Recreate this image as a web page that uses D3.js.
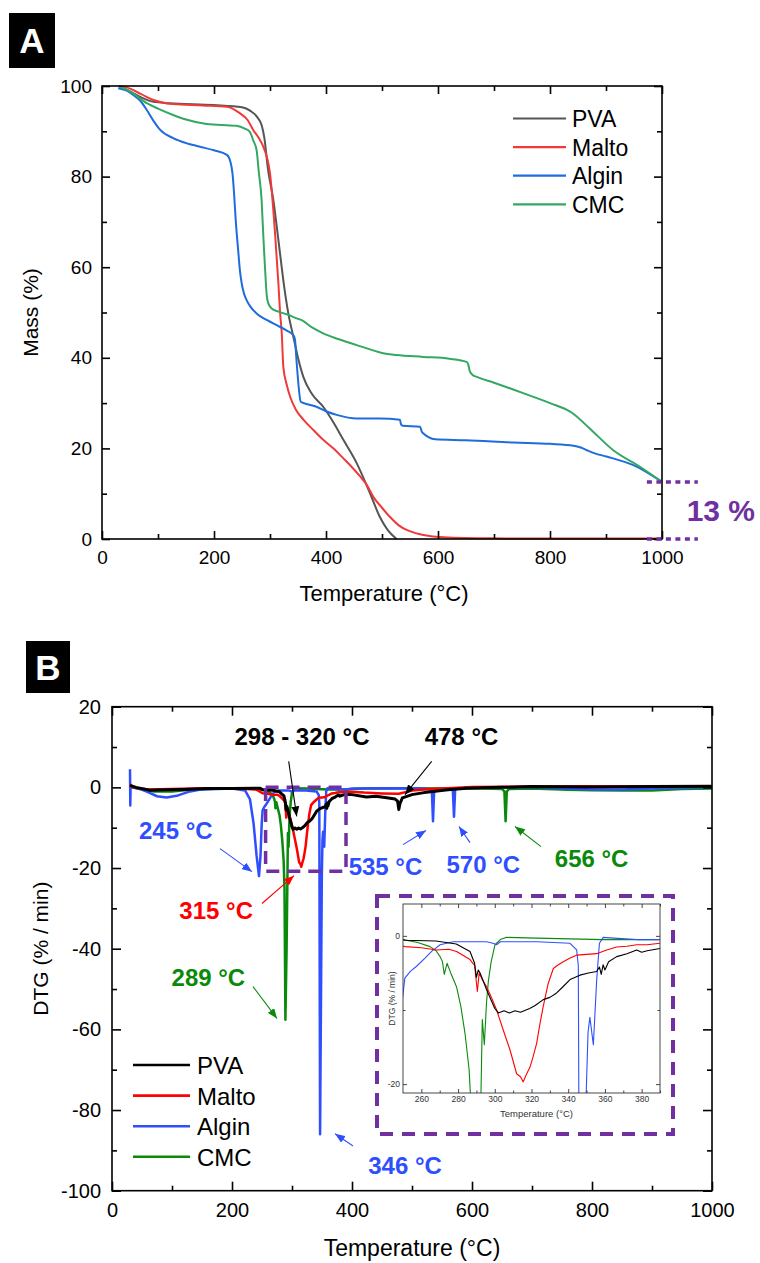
<!DOCTYPE html>
<html>
<head>
<meta charset="utf-8">
<script src="https://cdn.jsdelivr.net/npm/d3@7"></script>
<style>
  html, body { margin: 0; padding: 0; background: #fff; }
  svg { display: block; }
</style>
</head>
<body>
<svg id="chart" width="760" height="1263"></svg>
<script>
// ---------------- DATA ----------------
// Panel A: TGA mass (%) vs temperature (°C)
const seriesNames = ["PVA", "Malto", "Algin", "CMC"];

const tgaPVA = [[30,100],[50,98.8],[70,97.5],[92,96.5],[120,96.2],[200,95.8],[250,95.3],[265,94.5],[278,93],[285,91.4],[290,88.5],[296,82],[306,74.8],[315,66],[325,56],[332.7,49.8],[341.6,44.7],[350,40],[359.5,35.8],[375,32],[395,29.2],[412,26],[431,21.9],[455,16.7],[478.6,10.1],[496,4.9],[510,2],[526,0]];
const tgaMalto = [[30,100],[44,99.7],[70,98.2],[92,96.9],[127,96.0],[180,95.7],[223,95.4],[246,94.0],[260,92.5],[270,90.3],[280,88.5],[288,86.6],[300,80.7],[309,67.5],[315,56.4],[318,50],[321,45.4],[323.8,38],[330,34],[336,31.4],[346,28.6],[360,26.3],[378,24],[395,21.9],[415,19.8],[431,17.8],[446,15.9],[461,13.8],[473,11.9],[484.5,9.3],[500,6.9],[514,4.9],[530,3.0],[544,2.0],[560,1.3],[574,0.9],[610,0.4],[693,0.15],[800,0.1],[1000,0.1]];
const tgaAlgin = [[29,99.5],[45,98.9],[56,98],[68,96.8],[80,94.7],[92,92.3],[104,90.3],[127,88.5],[150,87.4],[175,86.6],[200,85.8],[223,84.8],[229,83.4],[233,80.7],[236,76],[239,70],[243,64],[246.5,59],[249.5,56.4],[254,54],[258,52.8],[265,51.3],[276,49.8],[295,48.3],[312,47.2],[330,46],[341.6,45],[344.6,44],[347,40],[350.6,34.4],[354.8,30.3],[365,29.8],[383,29.2],[400,28.2],[419,27.4],[455,26.6],[496,26.6],[532,26.3],[534,25.3],[537,25],[568,24.8],[571,23.7],[575,23.2],[583,22.5],[595,22],[650,21.8],[735,21.3],[800,21],[842,20.6],[855,20.2],[866,19.6],[880,18.9],[901,18.2],[949,16.3],[1000,12.6]];
const tgaCMC = [[29,100],[50,98.8],[80,96.2],[100,95],[127,93.6],[150,92.6],[187,91.6],[240,91.2],[255,90.6],[264,89.9],[270,88],[276,85.9],[280,81],[285,74.8],[288,67],[291,60.1],[294,54],[297,52],[303,50.9],[315,50.2],[330,49.6],[347.6,48.7],[356.6,48.3],[375,46.7],[395,45.4],[420,44.2],[455,42.8],[480,41.8],[502,41],[526,40.6],[574,40.2],[620,39.8],[651,39.1],[654,38.5],[657,37],[662,36.2],[669,35.8],[700,34.5],[752,32.2],[800,30],[836,28.1],[842,27.6],[870,24.5],[913,19.6],[960,16],[1000,12.6]];

// Panel B: DTG (% / min) vs temperature (°C)
const dtgPVA = [[30,0.5],[40,0],[63,-0.7],[91,-0.6],[120,-0.5],[158,-0.3],[200,-0.3],[247,-0.2],[251,-0.6],[268,-0.7],[279,-1.1],[286.5,-2.1],[289,-3.7],[290,-5.6],[291,-4.6],[292,-5.0],[295.6,-7.3],[300,-9.8],[302,-10.4],[305,-10.1],[308,-10.4],[311,-10.1],[314,-10.3],[319,-9.8],[322,-9.4],[326.4,-8.6],[330,-8.3],[333.7,-7.7],[337,-6.9],[341,-5.9],[346.4,-5.3],[351,-5.0],[355.5,-4.8],[357,-4.2],[358,-5.2],[359,-3.9],[360,-4.6],[362,-3.5],[366.4,-2.8],[372,-2.4],[377.3,-1.9],[380,-2.2],[383,-2.0],[390,-1.7],[400,-1.8],[424,-2.4],[440,-2.2],[458,-2.6],[472,-2.9],[476,-3.4],[478,-5.5],[480,-4.0],[484,-2.6],[500,-1.8],[520,-1.3],[535,-1.0],[560,-0.6],[591,-0.2],[650,0],[700,0.2],[800,0.1],[900,0.2],[1000,0.3]];
const dtgMalto = [[30,0.8],[35,0],[60,-0.5],[100,-0.4],[150,-0.2],[200,-0.2],[240,-0.5],[251,-1.45],[260,-1.6],[268.3,-1.9],[275,-1.8],[279.2,-2.1],[286.5,-3.2],[289,-4.0],[290.5,-7.5],[291.5,-5.0],[293,-5.8],[295.6,-6.9],[298,-8.2],[301,-10.0],[304.6,-12.7],[308.3,-15.4],[311.9,-18.6],[314,-19.0],[315.5,-19.7],[317,-18.8],[319.2,-17.7],[321,-16.2],[322.8,-14.5],[324.5,-12],[326.4,-9.5],[329,-6.5],[331.9,-4.4],[334,-4.0],[337.3,-3.5],[341,-3.0],[344.6,-2.6],[350,-2.5],[355.5,-2.4],[361,-1.9],[366.4,-1.5],[372,-1.4],[377.3,-1.2],[383,-1.2],[390,-1.0],[420,-1.3],[450,-1.5],[478,-1.6],[500,-0.8],[530,-0.4],[560,-0.2],[600,0.1],[700,0.2],[800,0.3],[900,0.2],[1000,0.3]];
const dtgAlgin = [[30,4.5],[30.5,-4.5],[31,0],[45,-0.3],[60,-1.2],[75,-2.2],[91,-2.5],[110,-2.0],[130,-1.0],[150,-0.5],[200,-0.3],[222,-0.8],[230,-3],[236,-9],[241,-17],[245,-22],[247.5,-17],[249.5,-9],[251,-5.7],[254,-4.8],[257.4,-4.1],[262,-3.0],[265.6,-2.1],[270.2,-1.2],[277.4,-0.8],[295.6,-0.8],[299,-1.0],[301,-1.2],[303,-0.8],[322.8,-0.8],[341,-1.0],[344.6,-1.9],[345.5,-4],[346.8,-86],[349.7,-22],[350.8,-13],[351.8,-11],[353.7,-14.7],[355.5,-6],[357,-1.0],[359.1,-0.2],[365,-0.3],[377.3,-0.5],[390,-0.5],[400,-0.3],[450,-0.2],[520,-0.3],[533,-0.5],[535,-8.4],[537,-0.5],[560,-0.3],[568,-0.5],[570,-7.3],[572,-0.3],[600,0],[700,0],[760,-0.3],[800,-0.5],[850,-0.5],[900,-0.3],[1000,0]];
const dtgCMC = [[30,0.3],[40,-0.2],[70,-1.0],[100,-1.0],[130,-0.6],[180,-0.3],[230,-0.3],[251,-0.54],[258,-0.9],[264.7,-1.45],[268,-2.0],[270.2,-2.8],[271.5,-3.5],[272.5,-5.2],[274,-3.7],[276,-5.0],[279.2,-6.9],[281.5,-9.5],[283.8,-13.2],[286,-18],[287.5,-25],[289,-57.6],[291,-40],[292.5,-21],[293.2,-11.3],[294.3,-14.7],[295.5,-9],[296.5,-6.1],[298,-3.5],[300.1,-1.2],[303,-0.5],[306.5,-0.2],[322.8,-0.3],[341,-0.4],[359,-0.5],[390,-0.5],[420,-0.3],[480,-0.2],[550,-0.3],[600,-0.2],[650,-0.4],[654,-1],[656,-8.4],[658,-1],[662,-0.4],[700,-0.3],[760,-0.6],[800,-0.7],[850,-0.8],[900,-0.8],[950,-0.4],[1000,-0.3]];

// Tick values
const ticksA_x = [0,200,400,600,800,1000];
const ticksA_xMinor = [100,300,500,700,900];
const ticksA_y = [0,20,40,60,80,100];
const ticksA_yMinor = [10,30,50,70,90];
const ticksB_x = [0,200,400,600,800,1000];
const ticksB_xMinor = [100,300,500,700,900];
const ticksB_y = [20,0,-20,-40,-60,-80,-100];
const ticksB_yMinor = [10,-10,-30,-50,-70,-90];
const ticksI_x = [260,280,300,320,340,360,380];
const ticksI_xMinor = [270,290,310,330,350,370,390];
const ticksI_y = [0,-20];
const ticksI_yMinor = [-10];

// Residue annotation (panel A)
const residueValue = 12.6;
const residueLabel = "13 %";
const residueSpan = [973, 1064];
const residueTextPos = [1044, 4];

// Zoom region shown in the inset (panel B): [T0, T1, D0, D1]
const zoomBox = [256, 390, 0, -20.8];

// Peak annotations (panel B)
const annLabels = ["298 - 320 °C", "478 °C", "245 °C", "535 °C", "570 °C", "656 °C", "315 °C", "289 °C", "346 °C"];
const annSeries = ["PVA", "PVA", "Algin", "Algin", "Algin", "CMC", "Malto", "CMC", "Algin"];
const annTextPos = [[316.7,10.6],[582.5,10.6],[106.4,-12.7],[455.8,-21.7],[618.9,-21.2],[799.4,-19.8],[173.6,-32.6],[160.6,-49.2],[488.4,-95.9]];
const annArrowFrom = [[294.5,6.45],[532.8,6.45],[180,-15.2],[485,-14.2],[596.7,-13.7],[715,-14.7],[250,-28.8],[235,-49.4],[401.7,-88.9]];
const annArrowTo = [[307.8,-7.2],[488.3,-1.8],[233.3,-20.9],[523.3,-10.7],[578.3,-9.7],[671.7,-9.7],[303.3,-21.9],[275,-57.3],[371.7,-85.9]];

// ---------------- STYLE ----------------
const FONT = "'Liberation Sans', Arial, Helvetica, sans-serif";
const colA = {PVA: "#555555", Malto: "#f03a3a", Algin: "#1f6ddc", CMC: "#34a862"};
const colB = {PVA: "#000000", Malto: "#ff0000", Algin: "#2f4fff", CMC: "#0a8a0a"};
const PURPLE = "#7030a0";

const svg = d3.select("#chart");

function frameAxes(g, x, y, o) {
  const [x0, x1] = x.range();
  const [y0, y1] = y.range(); // y0 bottom, y1 top
  function mk(fn, scale, vals, size, labels, pad, tx, ty) {
    const a = fn(scale).tickValues(vals).tickSize(-size).tickPadding(pad)
      .tickFormat(labels ? (d => String(d)) : (() => ""));
    const gg = g.append("g").attr("transform", `translate(${tx},${ty})`).call(a);
    gg.select(".domain").remove();
    gg.selectAll("line").attr("stroke", o.color).attr("stroke-width", o.sw);
    gg.selectAll("text").attr("font-size", o.fs).attr("font-family", FONT).attr("fill", o.textColor || "#000");
    return gg;
  }
  mk(d3.axisBottom, x, o.xMajor, o.maj, true, o.padX, 0, y0);
  mk(d3.axisBottom, x, o.xMinor, o.min, false, 0, 0, y0);
  mk(d3.axisTop, x, o.xMajor, o.maj, false, 0, 0, y1);
  mk(d3.axisTop, x, o.xMinor, o.min, false, 0, 0, y1);
  mk(d3.axisLeft, y, o.yMajor, o.maj, true, o.padY, x0, 0);
  mk(d3.axisLeft, y, o.yMinor, o.min, false, 0, x0, 0);
  mk(d3.axisRight, y, o.yMajor, o.maj, false, 0, x1, 0);
  mk(d3.axisRight, y, o.yMinor, o.min, false, 0, x1, 0);
  g.append("rect").attr("x", x0).attr("y", y1).attr("width", x1 - x0).attr("height", y0 - y1)
    .attr("fill", "none").attr("stroke", o.color).attr("stroke-width", o.sw);
}

function panelLabel(letter, bx, by, bw, bh) {
  svg.append("rect").attr("x", bx).attr("y", by).attr("width", bw).attr("height", bh).attr("fill", "#000");
  svg.append("text").attr("x", bx + bw / 2).attr("y", by + bh / 2 + 12.5)
    .attr("text-anchor", "middle").attr("font-family", FONT).attr("font-weight", "bold")
    .attr("font-size", 35).attr("fill", "#fff").text(letter);
}

// ---------------- PANEL A ----------------
const xA = d3.scaleLinear().domain([0, 1000]).range([102, 662]);
const yA = d3.scaleLinear().domain([0, 100]).range([539, 86]);
const gA = svg.append("g");
panelLabel("A", 9, 13, 46, 55);

const lineA = d3.line().x(d => xA(d[0])).y(d => yA(d[1])).curve(d3.curveMonotoneX);
const tgaData = {PVA: tgaPVA, Malto: tgaMalto, Algin: tgaAlgin, CMC: tgaCMC};
seriesNames.forEach(n => {
  gA.append("path").attr("d", lineA(tgaData[n])).attr("fill", "none")
    .attr("stroke", colA[n]).attr("stroke-width", 2).attr("stroke-linejoin", "round");
});

frameAxes(gA, xA, yA, {xMajor: ticksA_x, xMinor: ticksA_xMinor, yMajor: ticksA_y, yMinor: ticksA_yMinor,
  maj: 8, min: 5, padX: 12, padY: 10, fs: 19, sw: 1.6, color: "#000"});

gA.append("text").attr("x", (xA(0) + xA(1000)) / 2 + 2).attr("y", 601).attr("text-anchor", "middle")
  .attr("font-family", FONT).attr("font-size", 22).text("Temperature (°C)");
gA.append("text").attr("transform", `translate(38,${(yA(0) + yA(100)) / 2}) rotate(-90)`)
  .attr("text-anchor", "middle").attr("font-family", FONT).attr("font-size", 21).text("Mass (%)");

// legend A
seriesNames.forEach((n, i) => {
  const yy = 118.5 + i * 28.6;
  gA.append("line").attr("x1", 513).attr("x2", 566).attr("y1", yy).attr("y2", yy)
    .attr("stroke", colA[n]).attr("stroke-width", 2.2);
  gA.append("text").attr("x", 572).attr("y", yy + 8.5).attr("font-family", FONT)
    .attr("font-size", 23).text(n);
});

// residue annotation
[residueValue, 0].forEach(v => {
  gA.append("line").attr("x1", xA(residueSpan[0])).attr("x2", xA(residueSpan[1]))
    .attr("y1", yA(v)).attr("y2", yA(v)).attr("stroke", PURPLE).attr("stroke-width", 3.5)
    .attr("stroke-dasharray", "5,4.5");
});
gA.append("text").attr("x", xA(residueTextPos[0])).attr("y", yA(residueTextPos[1]))
  .attr("font-family", FONT).attr("font-weight", "bold").attr("font-size", 30)
  .attr("fill", PURPLE).text(residueLabel);

// ---------------- PANEL B ----------------
const xB = d3.scaleLinear().domain([0, 1000]).range([112, 712]);
const yB = d3.scaleLinear().domain([-100, 20]).range([1190.7, 706.7]);
const gB = svg.append("g");
panelLabel("B", 26, 641, 44, 52);

const dtgData = {PVA: dtgPVA, Malto: dtgMalto, Algin: dtgAlgin, CMC: dtgCMC};
const drawOrder = ["CMC", "Algin", "Malto", "PVA"];
const lineB = d3.line().x(d => xB(d[0])).y(d => yB(d[1]));
drawOrder.forEach(n => {
  gB.append("path").attr("d", lineB(dtgData[n])).attr("fill", "none")
    .attr("stroke", colB[n]).attr("stroke-width", n === "PVA" ? 3 : 2.5).attr("stroke-linejoin", "round");
});

frameAxes(gB, xB, yB, {xMajor: ticksB_x, xMinor: ticksB_xMinor, yMajor: ticksB_y, yMinor: ticksB_yMinor,
  maj: 9, min: 5, padX: 12, padY: 11, fs: 20, sw: 1.6, color: "#000"});

gB.append("text").attr("x", (xB(0) + xB(1000)) / 2).attr("y", 1256).attr("text-anchor", "middle")
  .attr("font-family", FONT).attr("font-size", 23).text("Temperature (°C)");
gB.append("text").attr("transform", `translate(48,${(yB(-100) + yB(20)) / 2}) rotate(-90)`)
  .attr("text-anchor", "middle").attr("font-family", FONT).attr("font-size", 21).text("DTG (% / min)");

// legend B
seriesNames.forEach((n, i) => {
  const yy = 1065 + i * 30.6;
  gB.append("line").attr("x1", 133).attr("x2", 190).attr("y1", yy).attr("y2", yy)
    .attr("stroke", colB[n]).attr("stroke-width", 2.6);
  gB.append("text").attr("x", 197).attr("y", yy + 9).attr("font-family", FONT)
    .attr("font-size", 24).text(n);
});

// zoom box
gB.append("rect").attr("x", xB(zoomBox[0])).attr("y", yB(zoomBox[2]))
  .attr("width", xB(zoomBox[1]) - xB(zoomBox[0])).attr("height", yB(zoomBox[3]) - yB(zoomBox[2]))
  .attr("fill", "none").attr("stroke", PURPLE).attr("stroke-width", 3.5).attr("stroke-dasharray", "13,8");

// arrow markers
const defs = svg.append("defs");
seriesNames.forEach(n => {
  defs.append("marker").attr("id", "arr-" + n).attr("viewBox", "0 0 10 8")
    .attr("refX", 10).attr("refY", 4).attr("markerWidth", 10).attr("markerHeight", 8)
    .attr("markerUnits", "userSpaceOnUse").attr("orient", "auto")
    .append("path").attr("d", "M0,0 L10,4 L0,8 Z").attr("fill", colB[n]);
});

annLabels.forEach((t, i) => {
  const c = colB[annSeries[i]];
  gB.append("line").attr("x1", xB(annArrowFrom[i][0])).attr("y1", yB(annArrowFrom[i][1]))
    .attr("x2", xB(annArrowTo[i][0])).attr("y2", yB(annArrowTo[i][1]))
    .attr("stroke", c).attr("stroke-width", 1.1).attr("marker-end", `url(#arr-${annSeries[i]})`);
  gB.append("text").attr("x", xB(annTextPos[i][0])).attr("y", yB(annTextPos[i][1]))
    .attr("text-anchor", "middle").attr("font-family", FONT).attr("font-weight", "bold")
    .attr("font-size", 24).attr("fill", c).text(t);
});

// ---------------- INSET ----------------
const gI = svg.append("g");
gI.append("rect").attr("x", 377).attr("y", 896).attr("width", 296).attr("height", 238)
  .attr("fill", "#fff").attr("stroke", PURPLE).attr("stroke-width", 4).attr("stroke-dasharray", "13,9");

const xI = d3.scaleLinear().domain([250, 390]).range([403, 660]);
const yI = d3.scaleLinear().domain([-21.2, 4.3]).range([1093, 904]);
defs.append("clipPath").attr("id", "clipI").append("rect")
  .attr("x", 403).attr("y", 904).attr("width", 257).attr("height", 189);

const lineI = d3.line().x(d => xI(d[0])).y(d => yI(d[1]));
const gIc = gI.append("g").attr("clip-path", "url(#clipI)");
drawOrder.forEach(n => {
  gIc.append("path").attr("d", lineI(dtgData[n])).attr("fill", "none")
    .attr("stroke", colB[n]).attr("stroke-width", 1.1).attr("stroke-linejoin", "round");
});

frameAxes(gI, xI, yI, {xMajor: ticksI_x, xMinor: ticksI_xMinor, yMajor: ticksI_y, yMinor: ticksI_yMinor,
  maj: 4, min: 2.5, padX: 3, padY: 3, fs: 8.5, sw: 0.9, color: "#333", textColor: "#333"});

gI.append("text").attr("x", (xI(250) + xI(390)) / 2 + 5).attr("y", 1117).attr("text-anchor", "middle")
  .attr("font-family", FONT).attr("font-size", 9.5).attr("fill", "#333").text("Temperature (°C)");
gI.append("text").attr("transform", `translate(395,${(yI(-21.2) + yI(4.3)) / 2}) rotate(-90)`)
  .attr("text-anchor", "middle").attr("font-family", FONT).attr("font-size", 8.5).attr("fill", "#333").text("DTG (% / min)");
</script>
</body>
</html>
